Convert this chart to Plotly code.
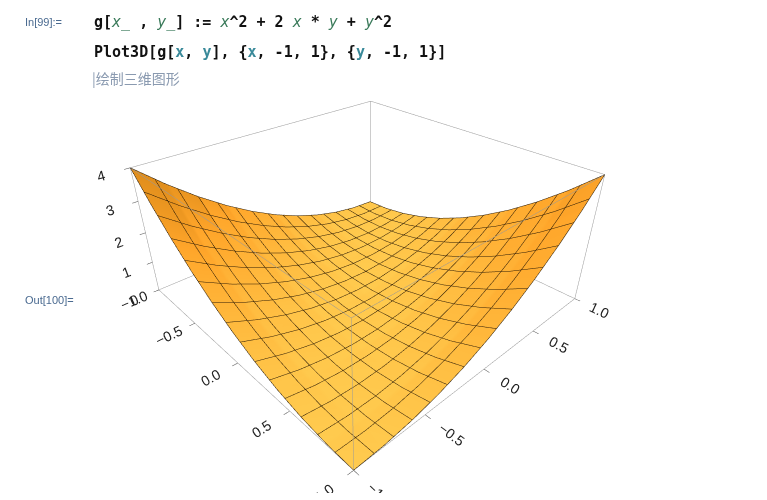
import plotly.graph_objects as go

xs = [-1.0, -0.8, -0.6, -0.4, -0.2, 0.0, 0.2, 0.4, 0.6, 0.8, 1.0]
ys = [-1.0, -0.8, -0.6, -0.4, -0.2, 0.0, 0.2, 0.4, 0.6, 0.8, 1.0]
# z rows indexed by y, columns by x (values read as g = (x+y)^2)
zs = [
    [4.00, 3.24, 2.56, 1.96, 1.44, 1.00, 0.64, 0.36, 0.16, 0.04, 0.00],
    [3.24, 2.56, 1.96, 1.44, 1.00, 0.64, 0.36, 0.16, 0.04, 0.00, 0.04],
    [2.56, 1.96, 1.44, 1.00, 0.64, 0.36, 0.16, 0.04, 0.00, 0.04, 0.16],
    [1.96, 1.44, 1.00, 0.64, 0.36, 0.16, 0.04, 0.00, 0.04, 0.16, 0.36],
    [1.44, 1.00, 0.64, 0.36, 0.16, 0.04, 0.00, 0.04, 0.16, 0.36, 0.64],
    [1.00, 0.64, 0.36, 0.16, 0.04, 0.00, 0.04, 0.16, 0.36, 0.64, 1.00],
    [0.64, 0.36, 0.16, 0.04, 0.00, 0.04, 0.16, 0.36, 0.64, 1.00, 1.44],
    [0.36, 0.16, 0.04, 0.00, 0.04, 0.16, 0.36, 0.64, 1.00, 1.44, 1.96],
    [0.16, 0.04, 0.00, 0.04, 0.16, 0.36, 0.64, 1.00, 1.44, 1.96, 2.56],
    [0.04, 0.00, 0.04, 0.16, 0.36, 0.64, 1.00, 1.44, 1.96, 2.56, 3.24],
    [0.00, 0.04, 0.16, 0.36, 0.64, 1.00, 1.44, 1.96, 2.56, 3.24, 4.00],
]
xticks = [-1.0, -0.5, 0.0, 0.5, 1.0]
zticks = [0, 1, 2, 3, 4]
box_lo, box_hi, z_lo, z_hi = -1, 1, 0, 4

mesh = dict(show=True, color="#2a1a05", width=1, start=-1, end=1, size=2/15)
fig = go.Figure(go.Surface(
    x=xs, y=ys, z=zs,
    colorscale=[[0, "#f0961a"], [1, "#f0961a"]], showscale=False,
    lighting=dict(ambient=0.45, diffuse=0.75, specular=0.25, roughness=0.6, fresnel=0.1),
    lightposition=dict(x=-2000, y=-3000, z=3000),
    contours=dict(x=mesh, y=mesh),
))
bx, by, bz = [], [], []
for a in (box_lo, box_hi):
    for b in (box_lo, box_hi):
        bx += [a, a, None]; by += [b, b, None]; bz += [z_lo, z_hi, None]
    for zz in (z_lo, z_hi):
        bx += [a, a, None]; by += [box_lo, box_hi, None]; bz += [zz, zz, None]
        bx += [box_lo, box_hi, None]; by += [a, a, None]; bz += [zz, zz, None]
fig.add_trace(go.Scatter3d(x=bx, y=by, z=bz, mode="lines", line=dict(color="#999", width=1),
                           hoverinfo="skip"))

ax = dict(showbackground=False, showgrid=False, zeroline=False, showline=False,
          title="", tickfont=dict(family="Liberation Sans", size=13, color="#222"),
          ticks="outside", tickcolor="#444", showspikes=False)
fig.update_layout(
    width=767, height=500, margin=dict(l=0, r=0, t=0, b=0),
    paper_bgcolor="white", showlegend=False,
    scene=dict(
        domain=dict(x=[0.0, 0.93], y=[0.03, 0.97]),
        xaxis=dict(ax, tickvals=xticks, ticktext=["−1.0", "−0.5", "0.0", "0.5", "1.0"], range=[-1, 1]),
        yaxis=dict(ax, tickvals=xticks, ticktext=["−1.0", "−0.5", "0.0", "0.5", "1.0"], range=[-1, 1]),
        zaxis=dict(ax, tickvals=zticks, range=[0, 4]),
        aspectmode="manual", aspectratio=dict(x=1, y=1, z=0.45),
        camera=dict(eye=dict(x=1.15, y=-1.07, z=0.9), up=dict(x=0, y=0, z=1),
                    center=dict(x=0, y=0, z=-0.08),
                    projection=dict(type="perspective")),
    ),
)
G = "#3a7a5a"
T = "#3a8a9a"
code1 = ("<b>g[</b><i style='color:%s'>x_</i><b> , </b><i style='color:%s'>y_</i><b>] := </b>"
         "<i style='color:%s'>x</i><b>^2 + 2 </b><i style='color:%s'>x</i><b> * </b>"
         "<i style='color:%s'>y</i><b> + </b><i style='color:%s'>y</i><b>^2</b>") % (G, G, G, G, G, G)
code2 = ("<b>Plot3D[g[<span style='color:%s'>x</span>, <span style='color:%s'>y</span>], "
         "{<span style='color:%s'>x</span>, -1, 1}, {<span style='color:%s'>y</span>, -1, 1}]</b>") % (T, T, T, T)
anns = [
    dict(x=15, y=14, text="In[99]:=", font=dict(size=11, color="#4a6a90", family="Liberation Sans")),
    dict(x=84, y=14, text=code1, font=dict(size=15, color="#111", family="DejaVu Sans Mono")),
    dict(x=84, y=44, text=code2, font=dict(size=15, color="#111", family="DejaVu Sans Mono")),
    dict(x=82, y=70, text="|绘制三维图形", font=dict(size=14, color="#8a9ab0", family="Noto Sans CJK SC")),
    dict(x=15, y=292, text="Out[100]=", font=dict(size=11, color="#4a6a90", family="Liberation Sans")),
]
for a in anns:
    fig.add_annotation(x=a["x"] / 767, y=1 - a["y"] / 500, xref="paper", yref="paper",
                       xanchor="left", yanchor="middle", showarrow=False, text=a["text"], font=a["font"])
fig.write_html("out.html")
